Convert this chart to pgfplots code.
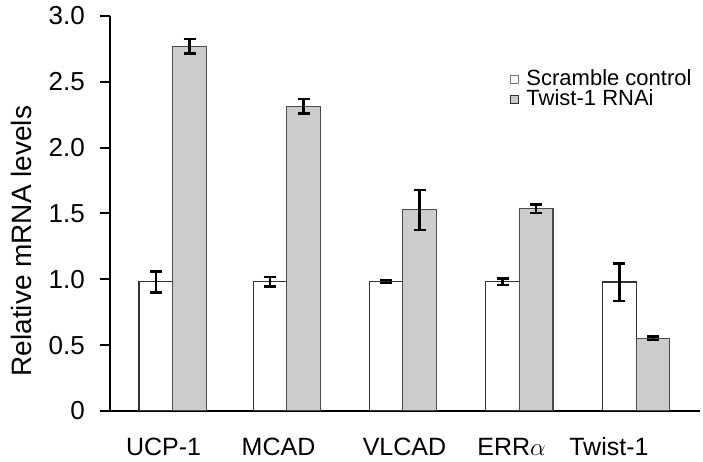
\documentclass[border=0pt]{standalone}
\usepackage{fontspec}
\setmainfont{Liberation Sans}
\usepackage{pgfplots}
\pgfplotsset{compat=1.18}
\begin{document}
\begin{tikzpicture}
\begin{axis}[
  scale only axis, width=590pt, height=395pt,
  xmin=-0.541, xmax=4.55, ymin=0, ymax=3,
  axis x line=bottom, axis y line=left,
  axis line style={line width=2pt, -},
  ytick={0,0.5,1,1.5,2,2.5,3},
  yticklabels={0,0.5,1.0,1.5,2.0,2.5,3.0},
  tick align=outside, major tick length=10pt,
  ytick style={line width=2pt, black},
  yticklabel style={font=\fontsize{26}{26}\selectfont, anchor=east, inner sep=0pt, xshift=-15pt},
  xtick={-0.079,0.913,2.0,2.924,3.764},
  xticklabels={UCP-1,MCAD,VLCAD,ERR$\alpha$,Twist-1},
  xtick style={draw=none},
  xticklabel style={font=\fontsize{25}{25}\selectfont, anchor=base, inner sep=0pt, yshift=-34pt},
  ylabel={Relative mRNA levels},
  ylabel style={font=\fontsize{28}{28}\selectfont, at={(axis description cs:-0.150,0.43)}, anchor=center},
  ybar, bar width=0.29, bar shift=0pt,
  legend style={draw=none, fill=none, at={(0.672,0.871)}, anchor=north west,
    font=\fontsize{22}{22}\selectfont, column sep=8pt,
    nodes={inner sep=0pt, text height=16pt, text depth=4pt}},
  legend cell align=left,
]
\addplot[fill=white, draw=black!80, line width=1.2pt,
  legend image code/.code={\draw[fill=white, draw=black!55, line width=0.8pt] (0pt,-4pt) rectangle (8pt,4pt);},
  error bars/.cd, y dir=both, y explicit,
  error bar style={line width=2.5pt, black},
  error mark options={rotate=90, mark size=6pt, line width=2.5pt, black}]
coordinates {
  (-0.145,0.981) +- (0,0.080)
  (0.839,0.981) +- (0,0.036)
  (1.840,0.983) +- (0,0.012)
  (2.846,0.981) +- (0,0.024)
  (3.855,0.979) +- (0,0.143)
};
\addlegendentry{Scramble control}
\addplot[fill=black!20, draw=black!70, line width=1.2pt,
  legend image code/.code={\draw[fill=black!20, draw=black!80, line width=0.8pt] (0pt,-4pt) rectangle (8pt,4pt);},
  error bars/.cd, y dir=both, y explicit,
  error bar style={line width=2.5pt, black},
  error mark options={rotate=90, mark size=6pt, line width=2.5pt, black}]
coordinates {
  (0.145,2.770) +- (0,0.055)
  (1.129,2.314) +- (0,0.055)
  (2.130,1.528) +- (0,0.152)
  (3.136,1.536) +- (0,0.032)
  (4.145,0.553) +- (0,0.012)
};
\addlegendentry{Twist-1 RNAi}
\end{axis}
\pgfresetboundingbox
\path[use as bounding box] ([xshift=-110pt,yshift=-51pt]current axis.south west) rectangle ++(703pt,462pt);
\end{tikzpicture}
\end{document}
